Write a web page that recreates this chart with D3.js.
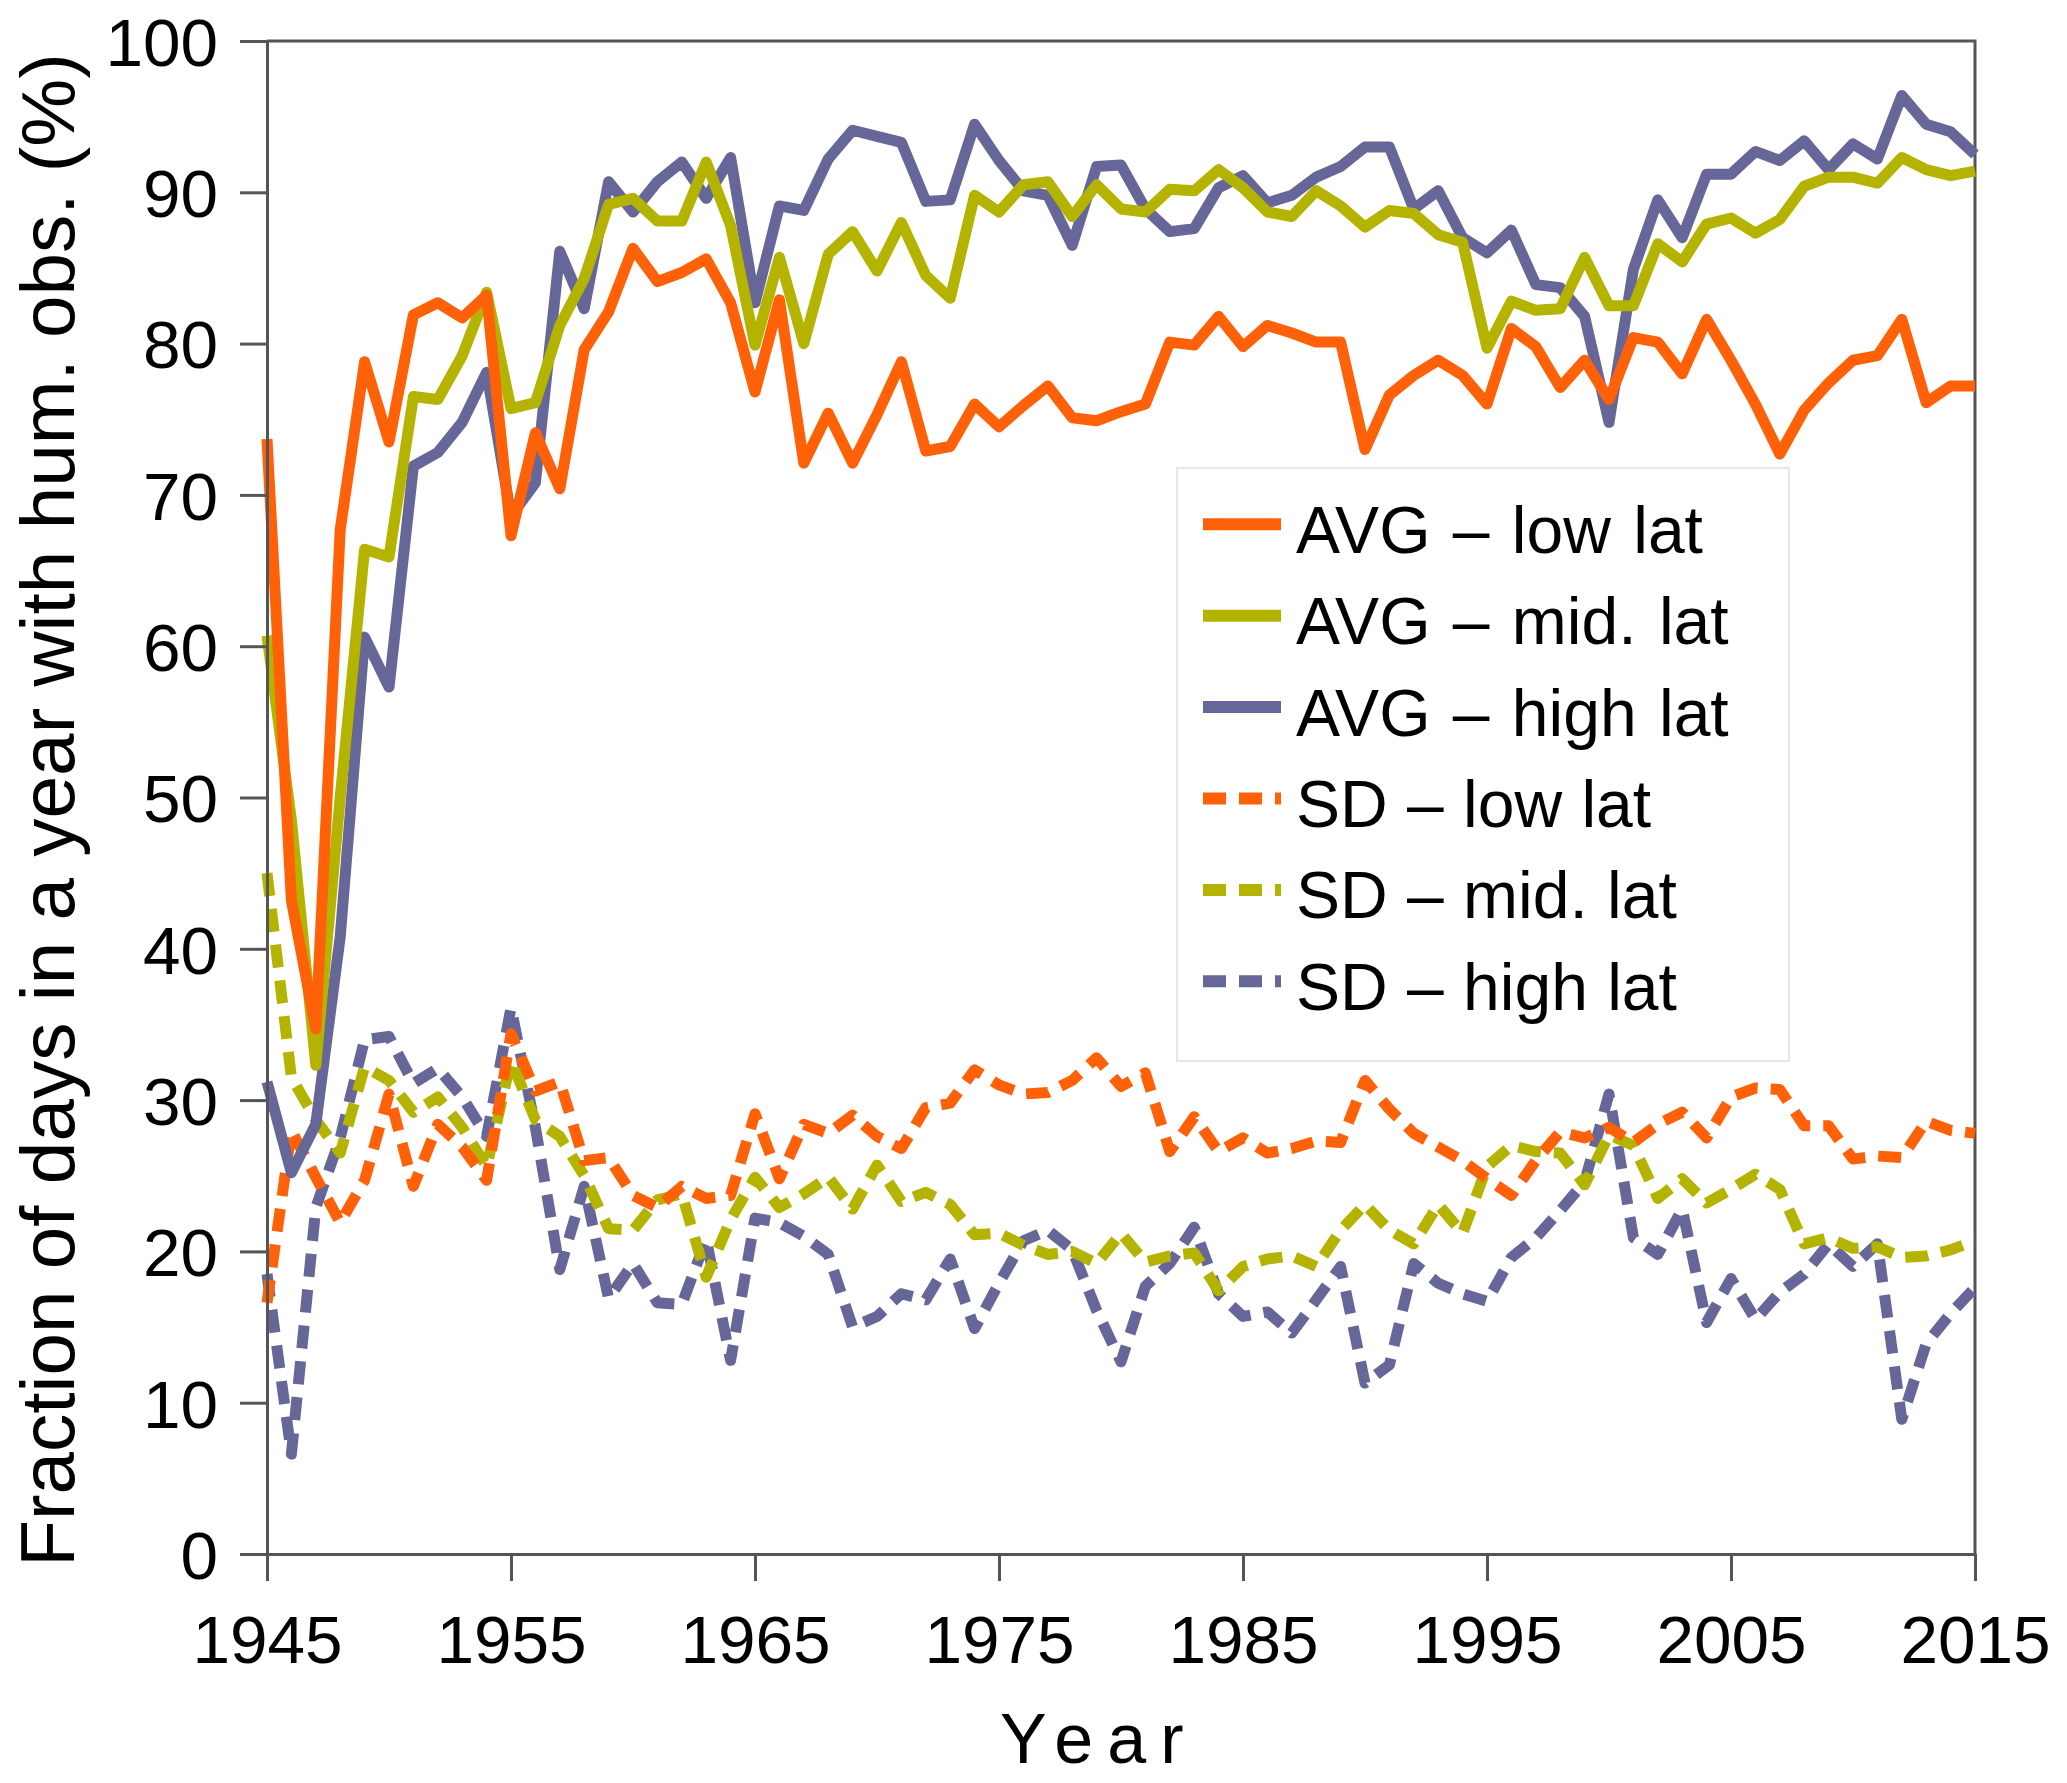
<!DOCTYPE html>
<html>
<head>
<meta charset="utf-8">
<script src="https://cdn.jsdelivr.net/npm/d3@7"></script>
<style>
    body { margin: 0; background: #fff; }
    text { font-family: 'Liberation Sans', Arial, sans-serif; }
</style>
</head>
<body>
<div class="graphContainer"></div>
<script>
// Years on the x axis (one value per year)
const years = d3.range(1945, 2016);

// Tick labels
const xTicks = [1945, 1955, 1965, 1975, 1985, 1995, 2005, 2015];
const yTicks = [0, 10, 20, 30, 40, 50, 60, 70, 80, 90, 100];

// AVG series (%)
const avgLow = [
    73.7, 43.2, 34.7, 67.7, 78.8, 73.5, 81.9, 82.7, 81.7, 83.2,
    67.3, 74.1, 70.4, 79.6, 82.1, 86.3, 84.1, 84.7, 85.6, 82.7,
    76.8, 82.9, 72.1, 75.4, 72.1, 75.3, 78.8, 72.9, 73.2, 76.0,
    74.5, 75.9, 77.2, 75.1, 74.9, 75.5, 76.0, 80.1, 79.9, 81.8,
    79.8, 81.2, 80.7, 80.1, 80.1, 73.0, 76.6, 77.9, 78.9, 77.9,
    76.0, 81.0, 79.8, 77.1, 78.9, 76.3, 80.4, 80.1, 78.0, 81.6,
    78.9, 76.0, 72.7, 75.6, 77.4, 78.9, 79.2, 81.6, 76.1, 77.2,
    77.2
];
const avgMid = [
    60.7, 48.5, 32.3, 50.0, 66.4, 65.9, 76.5, 76.3, 79.2, 83.4,
    75.7, 76.1, 81.2, 84.3, 89.2, 89.6, 88.1, 88.1, 92.0, 87.8,
    79.9, 85.7, 80.0, 85.9, 87.4, 84.8, 88.0, 84.5, 83.0, 89.8,
    88.7, 90.5, 90.7, 88.4, 90.5, 88.9, 88.7, 90.2, 90.1, 91.5,
    90.3, 88.7, 88.4, 90.1, 89.1, 87.7, 88.8, 88.6, 87.2, 86.7,
    79.7, 82.8, 82.2, 82.3, 85.7, 82.5, 82.5, 86.6, 85.4, 87.9,
    88.3, 87.3, 88.2, 90.4, 91.0, 91.0, 90.6, 92.3, 91.5, 91.1,
    91.4
];
const avgHigh = [
    31.2, 25.2, 28.4, 40.8, 60.6, 57.3, 71.9, 72.8, 74.8, 78.1,
    68.6, 70.8, 86.1, 82.3, 90.7, 88.7, 90.7, 92.0, 89.6, 92.3,
    82.7, 89.1, 88.8, 92.2, 94.1, 93.7, 93.3, 89.4, 89.5, 94.5,
    92.1, 90.1, 89.8, 86.5, 91.7, 91.8, 88.9, 87.4, 87.6, 90.3,
    91.1, 89.3, 89.8, 91.0, 91.7, 93.0, 93.0, 88.9, 90.1, 87.0,
    86.0, 87.5, 83.9, 83.7, 81.8, 74.8, 84.9, 89.5, 87.0, 91.2,
    91.2, 92.7, 92.1, 93.4, 91.5, 93.2, 92.2, 96.4, 94.5, 94.0,
    92.5
];

// SD series (%)
const sdLow = [
    16.6, 28.0, 24.9, 21.9, 24.7, 30.4, 24.3, 28.4, 26.9, 24.7,
    34.4, 30.6, 31.2, 26.0, 26.2, 23.7, 22.9, 24.3, 23.5, 23.7,
    29.1, 24.8, 28.4, 27.8, 29.0, 27.6, 26.8, 29.5, 29.8, 32.0,
    31.0, 30.4, 30.5, 31.3, 32.8, 30.9, 31.8, 26.6, 28.9, 26.6,
    27.5, 26.5, 26.8, 27.3, 27.2, 31.3, 29.4, 27.8, 26.9, 26.0,
    24.8, 23.7, 26.0, 27.9, 27.5, 28.2, 27.2, 28.4, 29.2, 27.5,
    30.2, 30.8, 30.7, 28.3, 28.3, 26.1, 26.3, 26.2, 28.6, 28.0,
    27.8
];
const sdMid = [
    45.0, 31.5, 28.7, 26.5, 32.2, 31.3, 29.2, 30.2, 28.2, 25.6,
    32.6, 28.7, 27.6, 25.0, 21.5, 21.4, 23.4, 23.8, 18.3, 22.1,
    24.9, 22.9, 23.8, 24.9, 22.8, 25.7, 23.3, 23.9, 23.1, 21.1,
    21.2, 20.4, 19.8, 20.0, 19.2, 21.2, 19.3, 19.7, 19.9, 17.4,
    19.0, 19.5, 19.7, 19.0, 21.4, 23.1, 21.4, 20.5, 23.1, 21.2,
    25.6, 27.0, 26.6, 26.5, 24.4, 27.7, 27.0, 23.5, 24.8, 23.2,
    24.1, 25.1, 24.1, 20.5, 20.9, 20.2, 20.3, 19.6, 19.7, 20.1,
    20.7
];
const sdHigh = [
    18.5, 6.6, 22.9, 27.5, 34.0, 34.2, 31.1, 32.1, 30.2, 27.6,
    36.1, 28.2, 18.8, 24.3, 16.9, 19.2, 16.6, 16.5, 20.8, 12.8,
    22.2, 21.9, 21.0, 19.8, 15.0, 15.7, 17.2, 16.8, 19.5, 14.9,
    17.9, 20.7, 21.4, 20.1, 16.1, 12.7, 17.7, 19.2, 21.6, 17.2,
    15.7, 16.0, 14.6, 16.8, 19.0, 11.3, 12.5, 19.2, 17.9, 17.2,
    16.7, 19.6, 20.9, 22.7, 24.6, 30.4, 20.9, 19.8, 22.8, 15.3,
    18.2, 15.5, 17.3, 18.5, 20.5, 19.0, 20.5, 8.9, 13.9, 15.9,
    17.6
];

// Series names in legend order
const seriesNames = [
    'AVG – low lat', 'AVG – mid. lat', 'AVG – high lat',
    'SD – low lat', 'SD – mid. lat', 'SD – high lat'
];

const colors = { low: '#ff6108', mid: '#b3b300', high: '#666699' };

const series = [
    { name: seriesNames[0], values: avgLow, color: colors.low, dashed: false },
    { name: seriesNames[1], values: avgMid, color: colors.mid, dashed: false },
    { name: seriesNames[2], values: avgHigh, color: colors.high, dashed: false },
    { name: seriesNames[3], values: sdLow, color: colors.low, dashed: true },
    { name: seriesNames[4], values: sdMid, color: colors.mid, dashed: true },
    { name: seriesNames[5], values: sdHigh, color: colors.high, dashed: true }
];

/**
 * Draw the whole chart.
 */
const renderChart = () => {
    const width = 2067;
    const height = 1783;
    const plot = { left: 267, right: 1975, top: 41, bottom: 1554 };
    const axisColor = '#555555';
    const dash = '23,13';

    const svg = d3.select('.graphContainer')
        .append('svg')
        .attr('width', width)
        .attr('height', height);

    // Scales
    const x = d3.scaleLinear()
        .domain([1945, 2015])
        .range([plot.left, plot.right]);

    const y = d3.scaleLinear()
        .domain([0, 100])
        .range([plot.bottom, plot.top]);

    // Frame on top and right
    svg.append('path')
        .attr('d', `M${plot.left},${plot.top}H${plot.right}V${plot.bottom}`)
        .attr('fill', 'none')
        .attr('stroke', axisColor)
        .attr('stroke-width', 3);

    // Lines (SD first, then AVG; high lat at the bottom)
    const line = d3.line()
        .x((d, i) => x(years[i]))
        .y(d => y(d));

    const drawOrder = [5, 4, 3, 2, 1, 0];
    drawOrder.forEach(k => {
        const s = series[k];
        svg.append('path')
            .datum(s.values)
            .attr('fill', 'none')
            .attr('stroke', s.color)
            .attr('stroke-width', 11)
            .attr('stroke-linejoin', 'round')
            .attr('stroke-dasharray', s.dashed ? dash : null)
            .attr('d', line);
    });

    // Axes
    const xAxis = svg.append('g')
        .attr('transform', `translate(0,${plot.bottom})`)
        .call(d3.axisBottom(x).tickValues(xTicks).tickFormat(d3.format('d'))
            .tickSize(27).tickSizeOuter(0).tickPadding(34));

    const yAxis = svg.append('g')
        .attr('transform', `translate(${plot.left},0)`)
        .call(d3.axisLeft(y).tickValues(yTicks)
            .tickSize(27).tickSizeOuter(0).tickPadding(22));

    [xAxis, yAxis].forEach(g => {
        g.select('.domain').attr('stroke', axisColor).attr('stroke-width', 3);
        g.selectAll('.tick line').attr('stroke', axisColor).attr('stroke-width', 3);
        g.selectAll('.tick text')
            .attr('fill', '#000')
            .attr('font-size', 67.5)
            .attr('font-family', "'Liberation Sans', Arial, sans-serif");
    });
    yAxis.selectAll('.tick text').attr('dy', '0.36em');

    // Axis titles
    svg.append('text')
        .attr('x', 1000)
        .attr('y', 1763)
        .attr('font-size', 70)
        .attr('font-family', "'DejaVu Sans', sans-serif")
        .attr('letter-spacing', '14px')
        .text('Year');

    svg.append('text')
        .attr('transform', 'translate(74,810) rotate(-90)')
        .attr('text-anchor', 'middle')
        .attr('font-size', 76.5)
        .text('Fraction of days in a year with hum. obs. (%)');

    // Legend
    const legend = svg.append('g');
    legend.append('rect')
        .attr('x', 1177)
        .attr('y', 468)
        .attr('width', 612)
        .attr('height', 593)
        .attr('fill', '#fff')
        .attr('stroke', '#e6e6e6')
        .attr('stroke-width', 2);

    const rowY = i => 524.3 + i * 91.4;

    series.forEach((s, i) => {
        legend.append('line')
            .attr('x1', 1203)
            .attr('x2', 1281)
            .attr('y1', rowY(i))
            .attr('y2', rowY(i))
            .attr('stroke', s.color)
            .attr('stroke-width', 12)
            .attr('stroke-dasharray', s.dashed ? dash : null);

        legend.append('text')
            .attr('x', 1296)
            .attr('y', rowY(i) + 28.5)
            .attr('font-size', 66)
            .attr('word-spacing', s.dashed ? '1px' : '4px')
            .text(s.name);
    });
}

renderChart();
</script>
</body>
</html>
